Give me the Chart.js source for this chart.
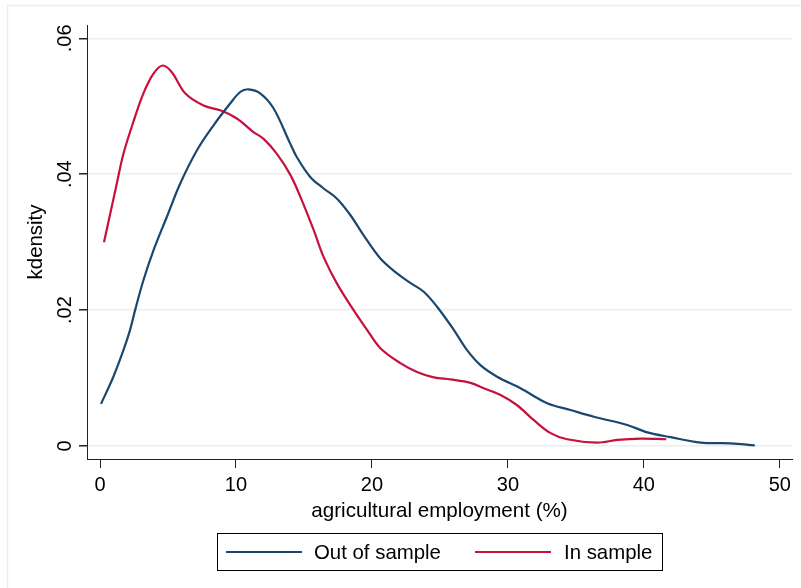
<!DOCTYPE html>
<html>
<head>
<meta charset="utf-8">
<script src="https://cdn.jsdelivr.net/npm/chart.js@4.4.1/dist/chart.umd.min.js"></script>
<style>
  html, body { margin: 0; padding: 0; background: #ffffff; }
  canvas { display: block; }
</style>
</head>
<body>
<canvas id="c" width="801" height="588"></canvas>
<script>
// ---- data ----
const outX = [0.07, 0.98, 1.72, 2.21, 2.58, 3.19, 3.93, 4.91, 5.89, 7.12, 8.35, 9.57, 10.31, 10.92, 11.78, 12.76, 13.99, 14.48, 15.46, 16.45, 17.43, 18.41, 19.39, 20.62, 21.85, 22.83, 23.81, 24.79, 26.02, 27.0, 27.98, 29.21, 30.93, 32.89, 34.61, 36.33, 38.78, 40.26, 41.97, 44.18, 46.39, 48.16];
const outY = [0.0062, 0.0102, 0.0141, 0.0171, 0.0200, 0.0244, 0.0288, 0.0337, 0.0386, 0.0435, 0.0472, 0.0504, 0.0521, 0.0525, 0.0519, 0.0497, 0.0445, 0.0425, 0.0396, 0.0379, 0.0364, 0.0340, 0.0310, 0.0276, 0.0254, 0.0240, 0.0227, 0.0205, 0.0171, 0.0141, 0.0119, 0.0102, 0.0085, 0.0063, 0.0053, 0.0043, 0.0031, 0.0020, 0.0013, 0.0005, 0.0004, 0.0001];

const inX = [0.29, 1.23, 1.72, 2.45, 3.19, 3.93, 4.61, 5.28, 6.26, 7.61, 8.84, 10.06, 11.29, 12.03, 13.01, 14.0, 14.73, 15.71, 16.45, 17.43, 18.65, 19.64, 20.62, 22.09, 23.32, 24.55, 25.77, 27.25, 28.23, 29.46, 30.68, 31.91, 33.14, 34.36, 36.57, 38.05, 39.76, 41.65];
const inY = [0.0300, 0.0386, 0.0430, 0.0477, 0.0519, 0.0548, 0.0560, 0.0550, 0.0519, 0.0501, 0.0494, 0.0482, 0.0462, 0.0452, 0.0430, 0.0399, 0.0367, 0.0318, 0.0278, 0.0239, 0.0200, 0.0171, 0.0144, 0.0122, 0.0109, 0.0101, 0.0098, 0.0093, 0.0085, 0.0075, 0.0060, 0.0038, 0.0019, 0.0010, 0.0005, 0.0009, 0.0011, 0.0010];

const seriesLabels = ['Out of sample', 'In sample'];
const seriesColors = ['#1a476f', '#c8103c'];

const xTickValues = [0, 10, 20, 30, 40, 50];
const xTickLabels = ['0', '10', '20', '30', '40', '50'];
const yTickValues = [0, 0.02, 0.04, 0.06];
const yTickLabels = ['0', '.02', '.04', '.06'];

const xTitle = 'agricultural employment (%)';
const yTitle = 'kdensity';

// ---- build ----
const FONT = "'Liberation Sans', Arial, Helvetica, sans-serif";
const toPts = (xs, ys) => xs.map((x, i) => ({ x: x, y: ys[i] }));

const frame = {
  id: 'frame',
  beforeDraw(chart) {
    const ctx = chart.ctx;
    ctx.save();
    ctx.fillStyle = '#ffffff';
    ctx.fillRect(0, 0, chart.width, chart.height);
    ctx.strokeStyle = '#e6eef1';
    ctx.lineWidth = 1.5;
    ctx.strokeRect(7.5, 5.5, 1000, 1000);
    ctx.restore();
  }
};

const stataLegend = {
  id: 'stataLegend',
  afterDraw(chart) {
    const ctx = chart.ctx;
    ctx.save();
    ctx.strokeStyle = '#000';
    ctx.lineWidth = 1;
    ctx.strokeRect(217.5, 533.5, 445, 37);
    const items = [
      { x0: 226, x1: 302, tx: 314 },
      { x0: 475, x1: 551, tx: 564 }
    ];
    ctx.font = '20.4px ' + FONT;
    ctx.textBaseline = 'middle';
    ctx.textAlign = 'left';
    chart.data.datasets.forEach((ds, i) => {
      const it = items[i];
      ctx.strokeStyle = ds.borderColor;
      ctx.lineWidth = 2.2;
      ctx.beginPath();
      ctx.moveTo(it.x0, 552);
      ctx.lineTo(it.x1, 552);
      ctx.stroke();
      ctx.fillStyle = '#000';
      ctx.fillText(ds.label, it.tx, 553.5);
    });
    ctx.restore();
  }
};

new Chart(document.getElementById('c'), {
  type: 'line',
  data: {
    datasets: [
      { label: seriesLabels[0], data: toPts(outX, outY), borderColor: seriesColors[0], borderWidth: 2.2, pointRadius: 0, fill: false, tension: 0.35 },
      { label: seriesLabels[1], data: toPts(inX, inY), borderColor: seriesColors[1], borderWidth: 2.2, pointRadius: 0, fill: false, tension: 0.35 }
    ]
  },
  options: {
    responsive: false,
    animation: false,
    devicePixelRatio: 1,
    layout: { padding: { left: 0, top: 25, right: 9, bottom: 63 } },
    plugins: { legend: { display: false }, tooltip: { enabled: false } },
    scales: {
      x: {
        type: 'linear',
        min: -0.96,
        max: 50.9,
        afterBuildTicks(s) { s.ticks = xTickValues.map(v => ({ value: v })); },
        afterFit(s) { s.height = 66; },
        ticks: {
          padding: 5,
          color: '#000',
          font: { family: FONT, size: 20 },
          maxRotation: 0,
          callback(v) { const i = xTickValues.indexOf(v); return i >= 0 ? xTickLabels[i] : ''; }
        },
        grid: { drawOnChartArea: false, tickLength: 9, tickColor: '#222', lineWidth: 1 },
        border: { display: true, color: '#222', width: 1 },
        title: { display: true, text: xTitle, color: '#000', font: { family: FONT, size: 20.6 }, padding: { top: 0, bottom: 1 } }
      },
      y: {
        type: 'linear',
        min: -0.00191,
        max: 0.06196,
        afterBuildTicks(s) { s.ticks = yTickValues.map(v => ({ value: v })); },
        afterFit(s) { s.width = 87; },
        ticks: {
          padding: 0,
          color: '#000',
          minRotation: 90,
          maxRotation: 90,
          crossAlign: 'center',
          font: { family: FONT, size: 20 },
          callback(v) { const i = yTickValues.indexOf(v); return i >= 0 ? yTickLabels[i] : ''; }
        },
        grid: { color: '#e8eff2', lineWidth: 1.5, tickLength: 8, tickColor: '#222' },
        border: { display: true, color: '#222', width: 1 },
        title: { display: true, text: yTitle, color: '#000', font: { family: FONT, size: 20.4 }, padding: { top: 24, bottom: 0 } }
      }
    }
  },
  plugins: [frame, stataLegend]
});
</script>
</body>
</html>
